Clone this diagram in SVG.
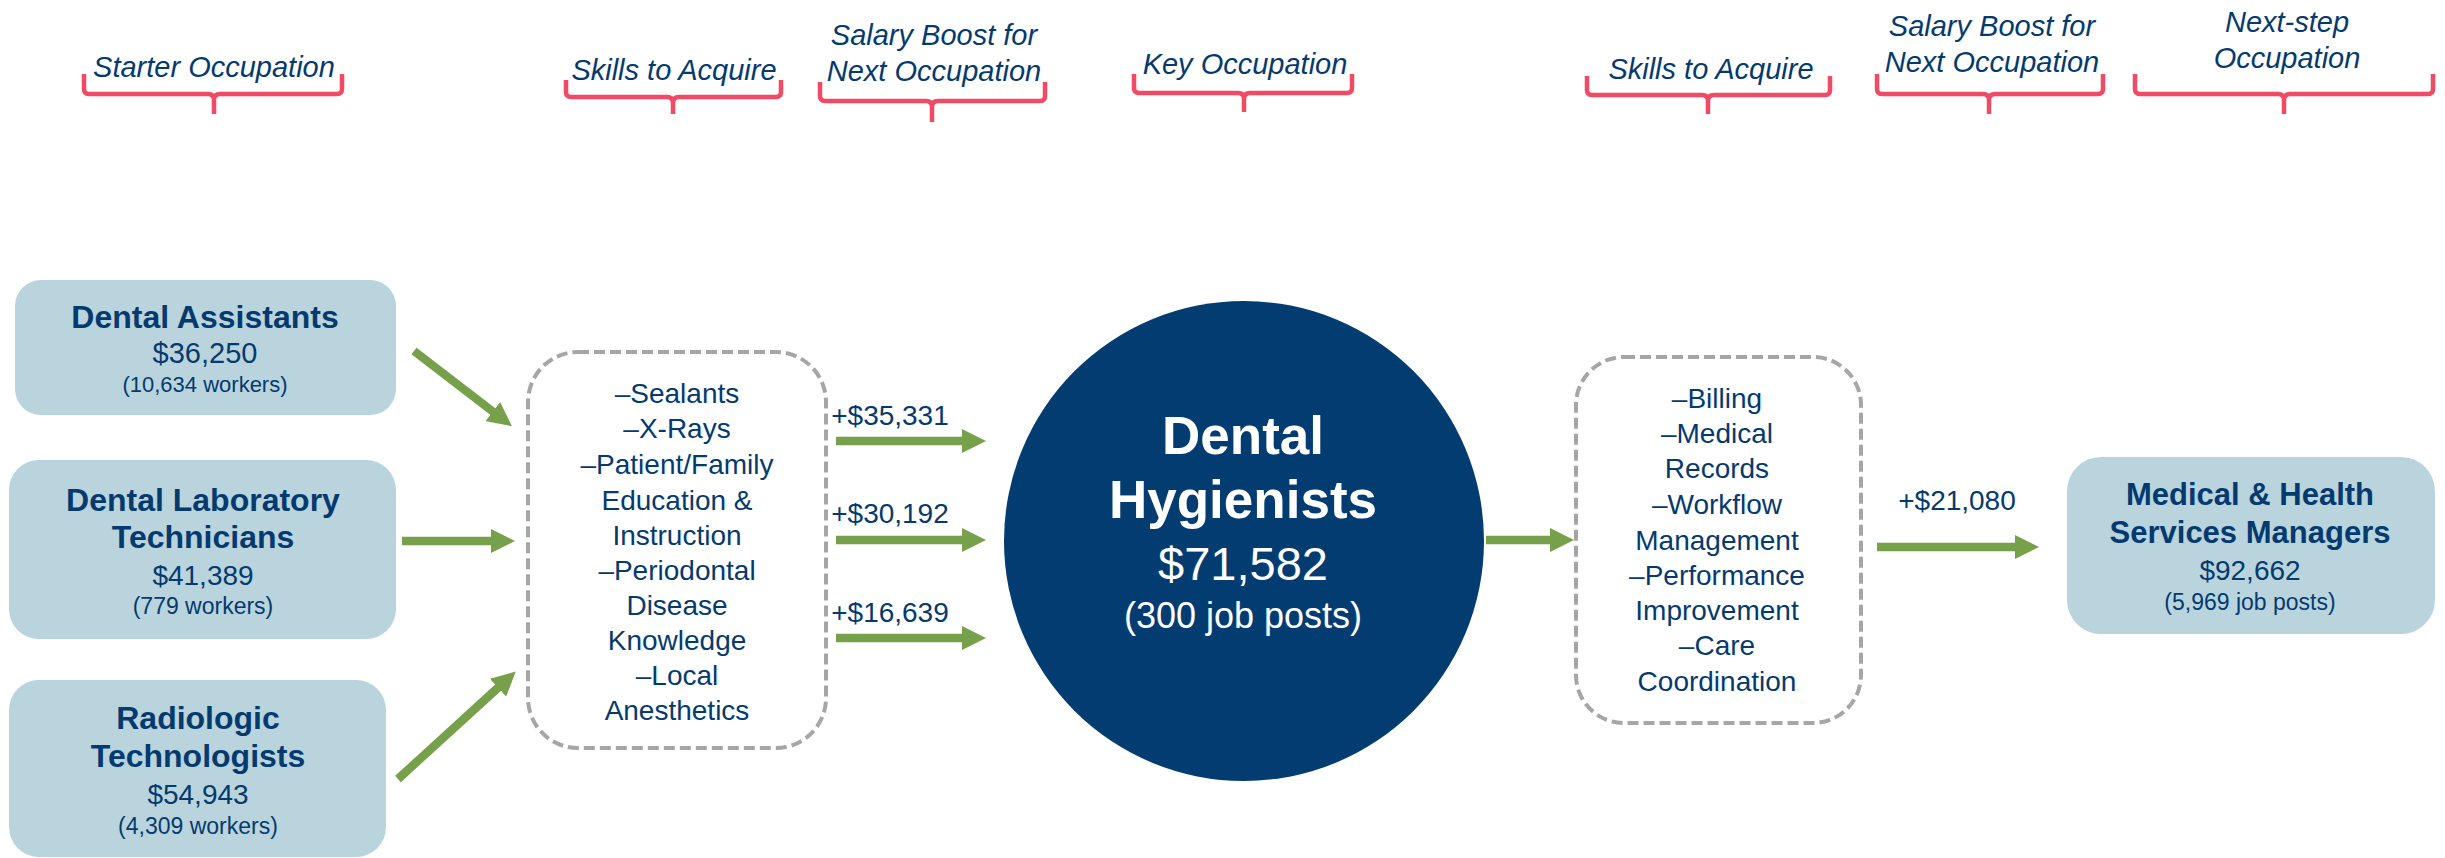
<svg xmlns="http://www.w3.org/2000/svg" width="2445" height="858" viewBox="0 0 2445 858">
<defs>
<style>
.hdr{font-family:"Liberation Sans",Arial,sans-serif;font-style:italic;font-size:29px;fill:#053a6e;text-anchor:middle}
.br{fill:none;stroke:#f04a64;stroke-width:4.5;stroke-linejoin:round}
.node{fill:#b9d4dd}
.t{font-family:"Liberation Sans",Arial,sans-serif;fill:#053a6e;text-anchor:middle}
.b{font-weight:bold}
.skill{fill:none;stroke:#a6a6a6;stroke-width:4;stroke-dasharray:11 5}
.sk{font-family:"Liberation Sans",Arial,sans-serif;font-size:28px;fill:#053a6e;text-anchor:middle}
.arr{stroke:#76a04a;stroke-width:8.5;fill:none;marker-end:url(#ah)}
.w{fill:#ffffff}
</style>
<marker id="ah" markerUnits="userSpaceOnUse" markerWidth="24" markerHeight="24" refX="4" refY="12" orient="auto" viewBox="0 0 24 24"><path d="M0,0 L24,12 L0,24 z" fill="#76a04a"/></marker>
</defs>
<rect width="2445" height="858" fill="#ffffff"/>

<g id="headers">
<text class="hdr" x="214" y="77">Starter Occupation</text>
<path class="br" d="M84,74 V89 Q84,94 89,94 H208 Q214,94 214,100 V114 M214,100 Q214,94 220,94 H337 Q342,94 342,89 V74"/>
<text class="hdr" x="674" y="80">Skills to Acquire</text>
<path class="br" d="M566,80 V92 Q566,97 571,97 H667 Q673,97 673,103 V114 M673,103 Q673,97 679,97 H776 Q781,97 781,92 V80"/>
<text class="hdr" x="934" y="45">Salary Boost for</text>
<text class="hdr" x="934" y="81">Next Occupation</text>
<path class="br" d="M820,82 V96 Q820,101 825,101 H926 Q932,101 932,107 V122 M932,107 Q932,101 938,101 H1040 Q1045,101 1045,96 V82"/>
<text class="hdr" x="1245" y="74">Key Occupation</text>
<path class="br" d="M1134,74 V88 Q1134,93 1139,93 H1238 Q1244,93 1244,99 V112 M1244,99 Q1244,93 1250,93 H1347 Q1352,93 1352,88 V74"/>
<text class="hdr" x="1711" y="79">Skills to Acquire</text>
<path class="br" d="M1587,76 V90 Q1587,95 1592,95 H1702 Q1708,95 1708,101 V114 M1708,101 Q1708,95 1714,95 H1825 Q1830,95 1830,90 V76"/>
<text class="hdr" x="1992" y="36">Salary Boost for</text>
<text class="hdr" x="1992" y="72">Next Occupation</text>
<path class="br" d="M1877,74 V89 Q1877,94 1882,94 H1983 Q1989,94 1989,100 V114 M1989,100 Q1989,94 1995,94 H2098 Q2103,94 2103,89 V74"/>
<text class="hdr" x="2287" y="32">Next-step</text>
<text class="hdr" x="2287" y="68">Occupation</text>
<path class="br" d="M2135,74 V89 Q2135,94 2140,94 H2278 Q2284,94 2284,100 V114 M2284,100 Q2284,94 2290,94 H2428 Q2433,94 2433,89 V74"/>
</g>

<g id="node-dental-assistants">
<rect class="node" x="15" y="280" width="381" height="135" rx="26"/>
<text class="t b" x="205" y="328" font-size="32">Dental Assistants</text>
<text class="t" x="205" y="363" font-size="29">$36,250</text>
<text class="t" x="205" y="392" font-size="22">(10,634 workers)</text>
</g>

<g id="node-dental-lab-technicians">
<rect class="node" x="9" y="460" width="387" height="179" rx="30"/>
<text class="t b" x="203" y="511" font-size="32">Dental Laboratory</text>
<text class="t b" x="203" y="548" font-size="32">Technicians</text>
<text class="t" x="203" y="585" font-size="28">$41,389</text>
<text class="t" x="203" y="614" font-size="23">(779 workers)</text>
</g>

<g id="node-radiologic-technologists">
<rect class="node" x="9" y="680" width="377" height="177" rx="30"/>
<text class="t b" x="198" y="729" font-size="32">Radiologic</text>
<text class="t b" x="198" y="767" font-size="32">Technologists</text>
<text class="t" x="198" y="804" font-size="28">$54,943</text>
<text class="t" x="198" y="834" font-size="23">(4,309 workers)</text>
</g>

<g id="node-skills-left">
<rect class="skill" x="528" y="352" width="298" height="396" rx="50"/>
<text class="sk" x="677" y="403">–Sealants</text>
<text class="sk" x="677" y="438">–X-Rays</text>
<text class="sk" x="677" y="474">–Patient/Family</text>
<text class="sk" x="677" y="510">Education &amp;</text>
<text class="sk" x="677" y="545">Instruction</text>
<text class="sk" x="677" y="580">–Periodontal</text>
<text class="sk" x="677" y="615">Disease</text>
<text class="sk" x="677" y="650">Knowledge</text>
<text class="sk" x="677" y="685">–Local</text>
<text class="sk" x="677" y="720">Anesthetics</text>
</g>

<g id="node-dental-hygienists">
<circle cx="1244" cy="541" r="240" fill="#033c71"/>
<text class="t b w" x="1243" y="454" font-size="53">Dental</text>
<text class="t b w" x="1243" y="518" font-size="53">Hygienists</text>
<text class="t w" x="1243" y="580" font-size="47">$71,582</text>
<text class="t w" x="1243" y="628" font-size="36">(300 job posts)</text>
</g>

<g id="node-skills-right">
<rect class="skill" x="1576" y="357" width="285" height="366" rx="48"/>
<text class="sk" x="1717" y="408">–Billing</text>
<text class="sk" x="1717" y="443">–Medical</text>
<text class="sk" x="1717" y="478">Records</text>
<text class="sk" x="1717" y="514">–Workflow</text>
<text class="sk" x="1717" y="550">Management</text>
<text class="sk" x="1717" y="585">–Performance</text>
<text class="sk" x="1717" y="620">Improvement</text>
<text class="sk" x="1717" y="655">–Care</text>
<text class="sk" x="1717" y="691">Coordination</text>
</g>

<g id="node-medical-health-managers">
<rect class="node" x="2067" y="457" width="368" height="177" rx="34"/>
<text class="t b" x="2250" y="505" font-size="31">Medical &amp; Health</text>
<text class="t b" x="2250" y="543" font-size="31">Services Managers</text>
<text class="t" x="2250" y="580" font-size="28">$92,662</text>
<text class="t" x="2250" y="610" font-size="23">(5,969 job posts)</text>
</g>

<g id="connectors">
<line class="arr" x1="414" y1="351" x2="496" y2="414"/>
<line class="arr" x1="402" y1="541" x2="495" y2="541"/>
<line class="arr" x1="398" y1="779" x2="501" y2="685"/>
<line class="arr" x1="836" y1="441" x2="966" y2="441"/>
<line class="arr" x1="836" y1="540" x2="966" y2="540"/>
<line class="arr" x1="836" y1="638" x2="966" y2="638"/>
<line class="arr" x1="1486" y1="540" x2="1554" y2="540"/>
<line class="arr" x1="1877" y1="547" x2="2019" y2="547"/>
<text class="sk" x="890" y="425">+$35,331</text>
<text class="sk" x="890" y="523">+$30,192</text>
<text class="sk" x="890" y="622">+$16,639</text>
<text class="sk" x="1957" y="510">+$21,080</text>
</g>
</svg>
